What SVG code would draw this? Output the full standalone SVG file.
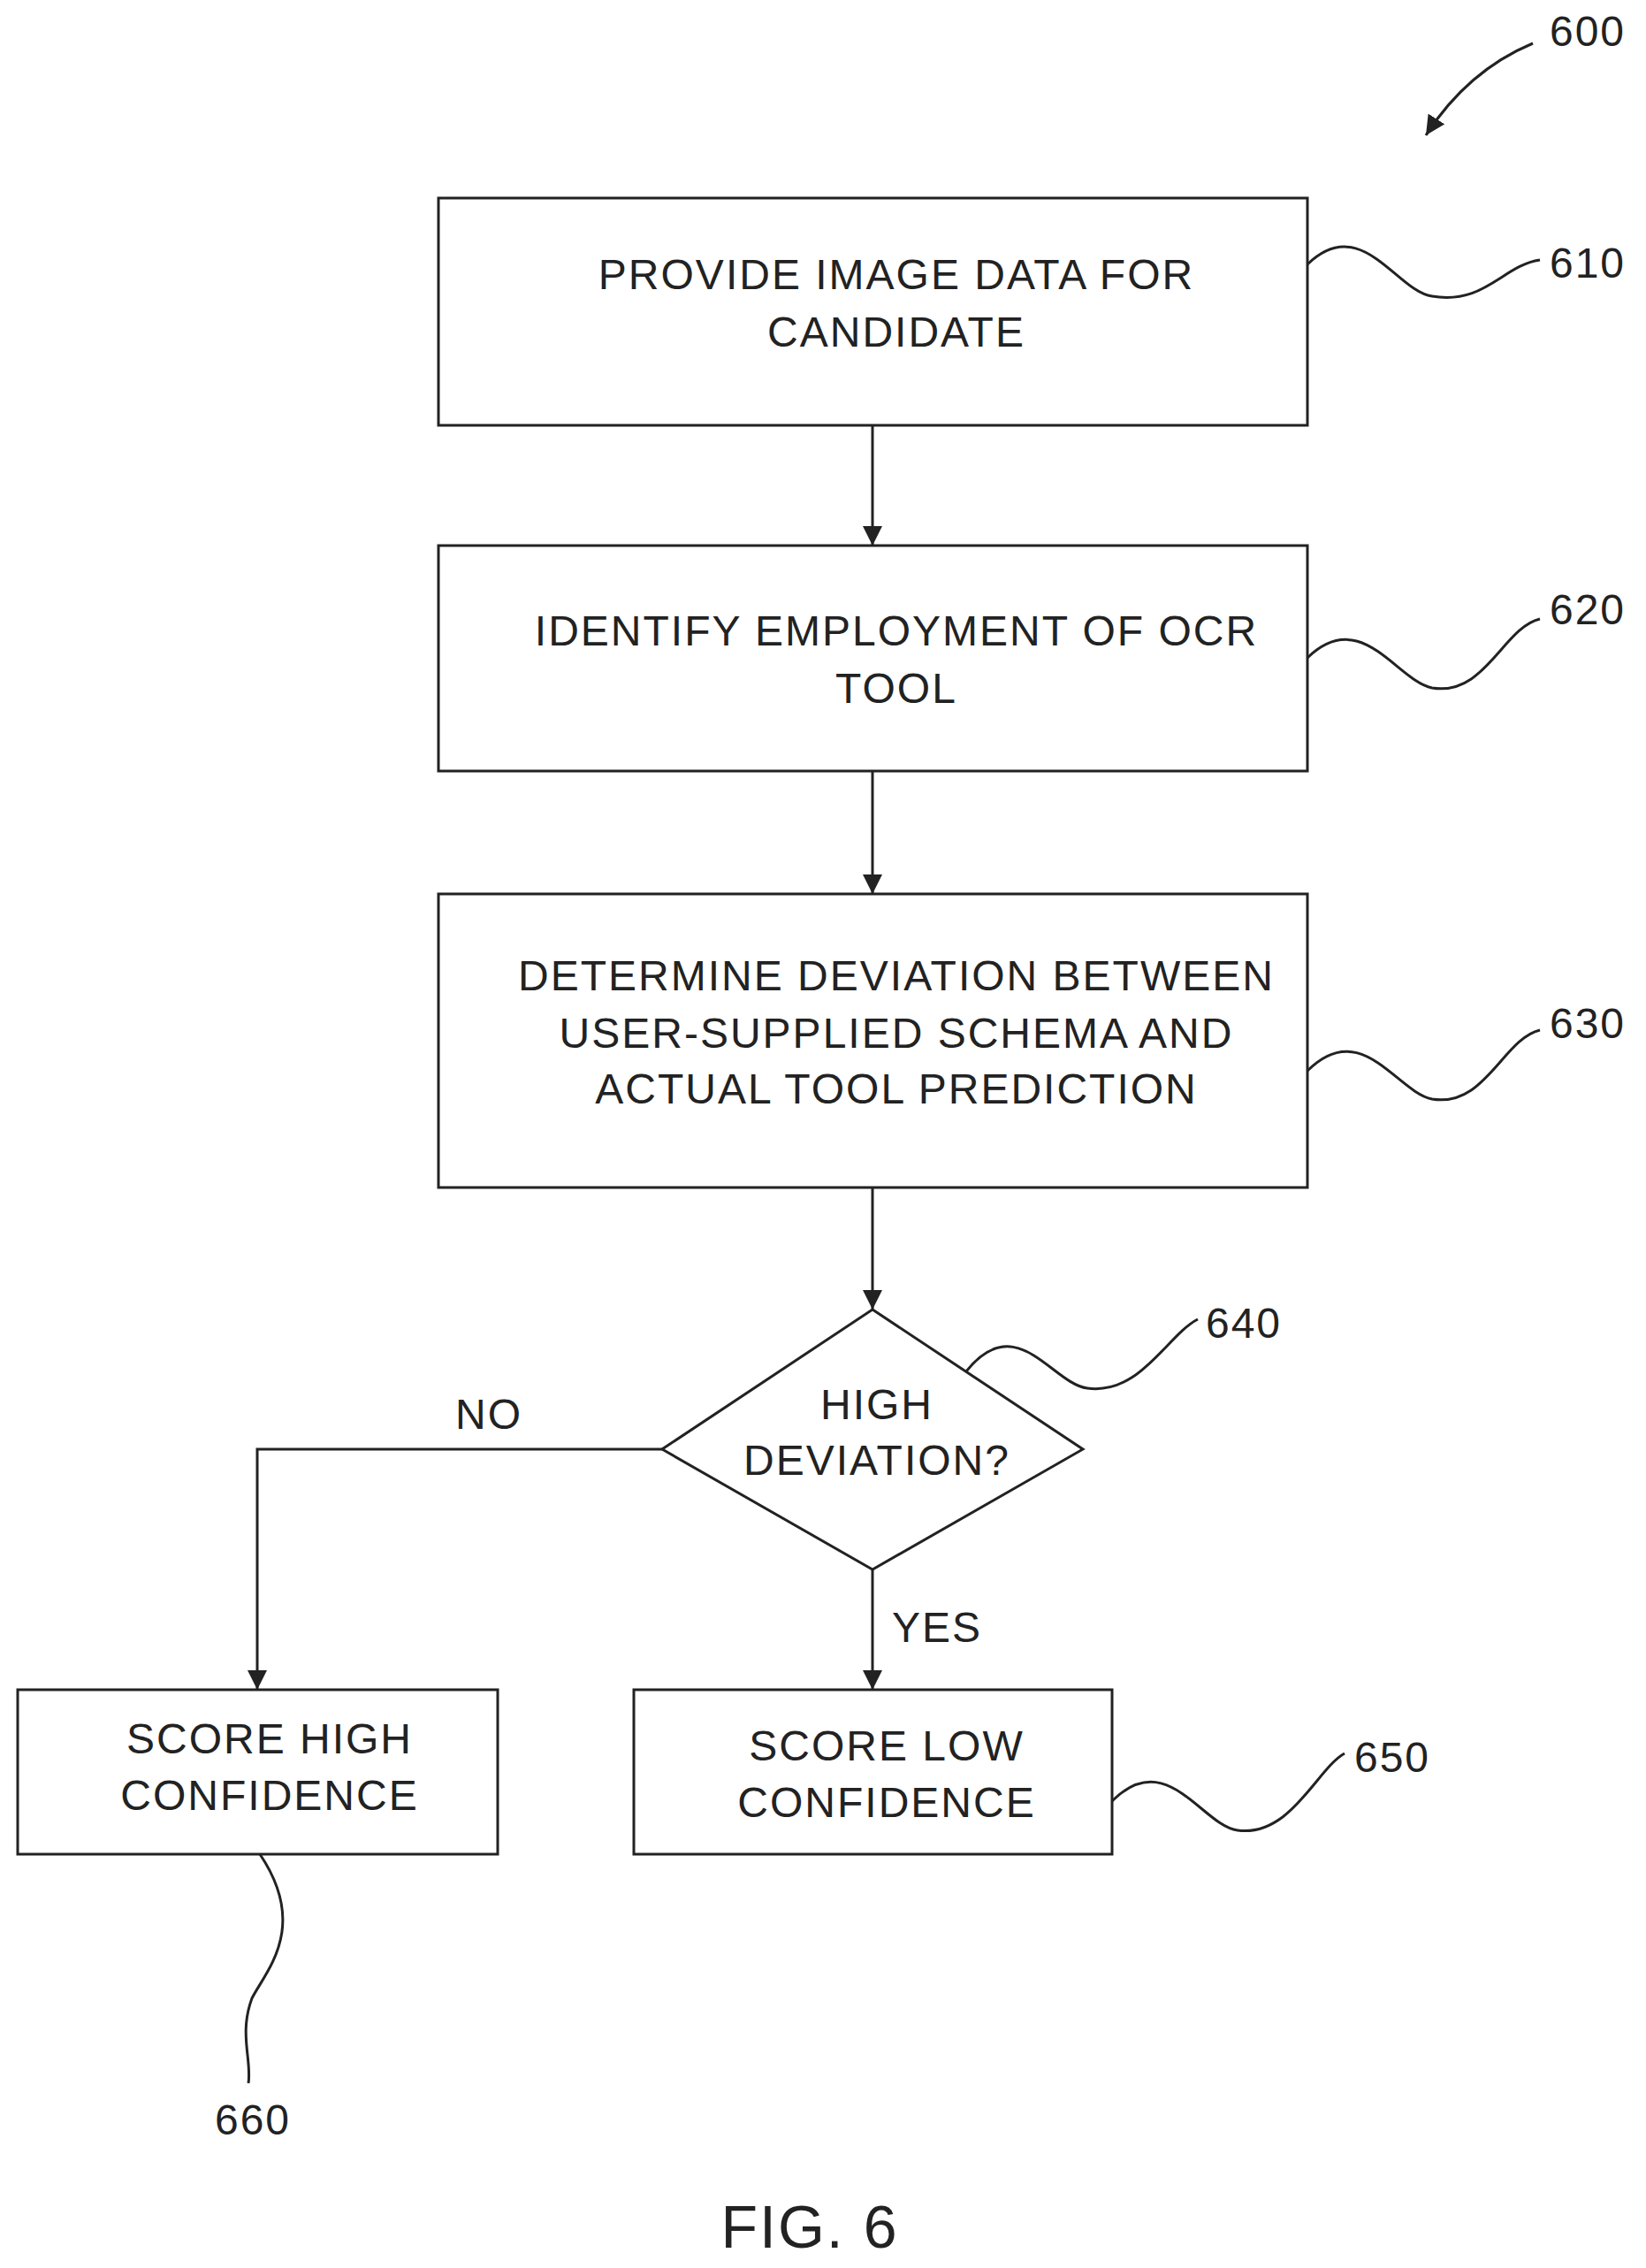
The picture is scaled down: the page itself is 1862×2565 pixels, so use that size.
<svg xmlns="http://www.w3.org/2000/svg" width="1862" height="2565" viewBox="0 0 1862 2565">
<style>
.b{fill:#fff;stroke:#222;stroke-width:3}
.t{font-family:"Liberation Sans",Arial,sans-serif;font-size:48px;letter-spacing:2px;fill:#222;text-anchor:middle}
.c{fill:none;stroke:#222;stroke-width:3}
</style>
<defs>
<marker id="h" viewBox="0 0 10 10" refX="10" refY="5" markerWidth="22" markerHeight="22" markerUnits="userSpaceOnUse" orient="auto"><path d="M0,0 L10,5 L0,10 z" fill="#222"/></marker></defs>
<rect width="1862" height="2565" fill="#fff"/>
<g id="connectors">
<path class="c" d="M987 481 V617" marker-end="url(#h)"/>
<path class="c" d="M987 872 V1011" marker-end="url(#h)"/>
<path class="c" d="M987 1343 V1481" marker-end="url(#h)"/>
<path class="c" d="M987 1775 V1911" marker-end="url(#h)"/>
<path class="c" d="M749 1639 H291 V1911" marker-end="url(#h)"/>
<text class="t" x="553" y="1616">NO</text>
<text class="t" x="1060" y="1857">YES</text>
</g>
<g id="n610"><rect class="b" x="496" y="224" width="983" height="257"/><text class="t" x="1014" y="327">PROVIDE IMAGE DATA FOR</text><text class="t" x="1014" y="392">CANDIDATE</text></g>
<g id="n620"><rect class="b" x="496" y="617" width="983" height="255"/><text class="t" x="1014" y="730">IDENTIFY EMPLOYMENT OF OCR</text><text class="t" x="1014" y="795">TOOL</text></g>
<g id="n630"><rect class="b" x="496" y="1011" width="983" height="332"/><text class="t" x="1014" y="1120">DETERMINE DEVIATION BETWEEN</text><text class="t" x="1014" y="1185">USER-SUPPLIED SCHEMA AND</text><text class="t" x="1014" y="1248">ACTUAL TOOL PREDICTION</text></g>
<g id="n640"><path class="b" d="M987 1481 L1225 1639 L987 1775 L749 1639 Z"/><text class="t" x="992" y="1605">HIGH</text><text class="t" x="992" y="1668">DEVIATION?</text></g>
<g id="n660"><rect class="b" x="20" y="1911" width="543" height="186"/><text class="t" x="305" y="1983">SCORE HIGH</text><text class="t" x="305" y="2047">CONFIDENCE</text></g>
<g id="n650"><rect class="b" x="717" y="1911" width="541" height="186"/><text class="t" x="1003" y="1991">SCORE LOW</text><text class="t" x="1003" y="2055">CONFIDENCE</text></g>
<g id="refs">
<path class="c" d="M1734 49 Q1660 80 1613 153" marker-end="url(#h)"/>
<text class="t" x="1796" y="52">600</text>
<path class="c" d="M1479 299 C1540 240 1580 330 1620 335 C1680 345 1700 300 1742 294"/>
<text class="t" x="1796" y="314">610</text>
<path class="c" d="M1479 744 C1540 685 1580 770 1620 778 C1680 788 1700 710 1742 700"/>
<text class="t" x="1796" y="706">620</text>
<path class="c" d="M1479 1211 C1540 1150 1580 1235 1620 1243 C1680 1253 1700 1175 1742 1165"/>
<text class="t" x="1796" y="1174">630</text>
<path class="c" d="M1093 1551 C1150 1480 1190 1565 1230 1570 C1290 1578 1320 1510 1355 1492"/>
<text class="t" x="1407" y="1513">640</text>
<path class="c" d="M1258 2037 C1320 1975 1360 2065 1400 2070 C1460 2078 1490 2000 1521 1983"/>
<text class="t" x="1575" y="2004">650</text>
<path class="c" d="M294 2097 C350 2180 300 2230 285 2260 C270 2300 285 2330 281 2356"/>
<text class="t" x="286" y="2414">660</text>
</g>
<text class="t" x="916" y="2542" style="font-size:68px">FIG. 6</text>
</svg>
